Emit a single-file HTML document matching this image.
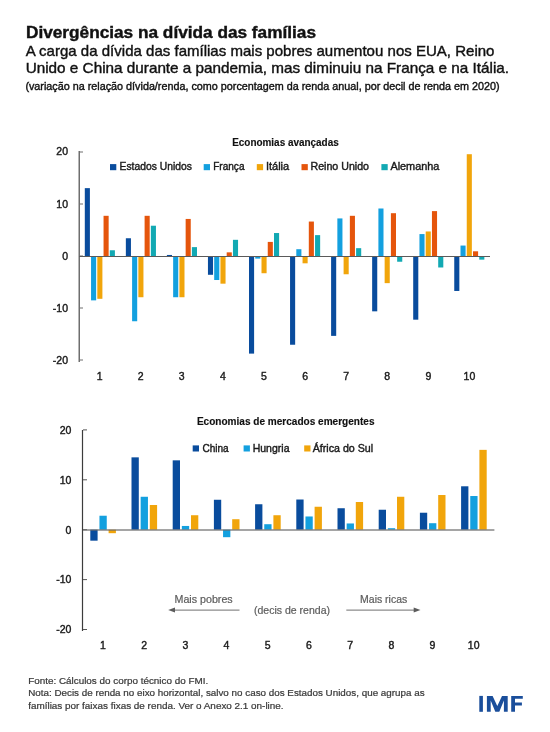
<!DOCTYPE html>
<html><head><meta charset="utf-8"><style>
html,body{margin:0;padding:0;background:#fff;}
svg{display:block;font-family:"Liberation Sans", sans-serif;will-change:transform;}
</style></head><body>
<svg width="550" height="732" viewBox="0 0 550 732">
<rect width="550" height="732" fill="#fff"/>
<text x="26.00" y="37.70" font-size="16.4" font-weight="bold" fill="#111" text-anchor="start" textLength="290.00" lengthAdjust="spacingAndGlyphs" stroke="#111" stroke-width="0.4">Divergências na dívida das famílias</text>
<text x="25.70" y="56.10" font-size="15" font-weight="normal" fill="#111" text-anchor="start" textLength="468.80" lengthAdjust="spacingAndGlyphs" stroke="#111" stroke-width="0.4">A carga da dívida das famílias mais pobres aumentou nos EUA, Reino</text>
<text x="25.70" y="73.20" font-size="15" font-weight="normal" fill="#111" text-anchor="start" textLength="483.40" lengthAdjust="spacingAndGlyphs" stroke="#111" stroke-width="0.4">Unido e China durante a pandemia, mas diminuiu na França e na Itália.</text>
<text x="25.40" y="90.40" font-size="11.4" font-weight="normal" fill="#111" text-anchor="start" textLength="474.20" lengthAdjust="spacingAndGlyphs" stroke="#111" stroke-width="0.4">(variação na relação dívida/renda, como porcentagem da renda anual, por decil de renda em 2020)</text>
<rect x="84.80" y="188.14" width="5.10" height="67.86" fill="#094c9d"/>
<rect x="91.05" y="257.00" width="5.10" height="43.37" fill="#13a0df"/>
<rect x="97.30" y="257.00" width="5.10" height="41.80" fill="#f1a50b"/>
<rect x="103.55" y="215.81" width="5.10" height="40.19" fill="#e5550c"/>
<rect x="109.80" y="250.26" width="5.10" height="5.74" fill="#12a9b3"/>
<rect x="125.85" y="238.25" width="5.10" height="17.75" fill="#094c9d"/>
<rect x="132.10" y="257.00" width="5.10" height="64.25" fill="#13a0df"/>
<rect x="138.35" y="257.00" width="5.10" height="40.24" fill="#f1a50b"/>
<rect x="144.60" y="215.81" width="5.10" height="40.19" fill="#e5550c"/>
<rect x="150.85" y="225.72" width="5.10" height="30.28" fill="#12a9b3"/>
<rect x="166.90" y="254.96" width="5.10" height="1.04" fill="#094c9d"/>
<rect x="173.15" y="257.00" width="5.10" height="40.24" fill="#13a0df"/>
<rect x="179.40" y="257.00" width="5.10" height="40.24" fill="#f1a50b"/>
<rect x="185.65" y="218.94" width="5.10" height="37.06" fill="#e5550c"/>
<rect x="191.90" y="247.13" width="5.10" height="8.87" fill="#12a9b3"/>
<rect x="207.95" y="257.00" width="5.10" height="17.79" fill="#094c9d"/>
<rect x="214.20" y="257.00" width="5.10" height="23.01" fill="#13a0df"/>
<rect x="220.45" y="257.00" width="5.10" height="26.67" fill="#f1a50b"/>
<rect x="226.70" y="252.35" width="5.10" height="3.65" fill="#e5550c"/>
<rect x="232.95" y="239.82" width="5.10" height="16.18" fill="#12a9b3"/>
<rect x="249.00" y="257.00" width="5.10" height="96.61" fill="#094c9d"/>
<rect x="255.25" y="257.00" width="5.10" height="1.61" fill="#13a0df"/>
<rect x="261.50" y="257.00" width="5.10" height="16.23" fill="#f1a50b"/>
<rect x="267.75" y="241.91" width="5.10" height="14.09" fill="#e5550c"/>
<rect x="274.00" y="233.03" width="5.10" height="22.97" fill="#12a9b3"/>
<rect x="290.05" y="257.00" width="5.10" height="87.74" fill="#094c9d"/>
<rect x="296.30" y="249.21" width="5.10" height="6.79" fill="#13a0df"/>
<rect x="302.55" y="257.00" width="5.10" height="6.31" fill="#f1a50b"/>
<rect x="308.80" y="221.55" width="5.10" height="34.45" fill="#e5550c"/>
<rect x="315.05" y="235.12" width="5.10" height="20.88" fill="#12a9b3"/>
<rect x="331.10" y="257.00" width="5.10" height="78.87" fill="#094c9d"/>
<rect x="337.35" y="218.42" width="5.10" height="37.58" fill="#13a0df"/>
<rect x="343.60" y="257.00" width="5.10" height="17.27" fill="#f1a50b"/>
<rect x="349.85" y="215.81" width="5.10" height="40.19" fill="#e5550c"/>
<rect x="356.10" y="248.17" width="5.10" height="7.83" fill="#12a9b3"/>
<rect x="372.15" y="257.00" width="5.10" height="54.33" fill="#094c9d"/>
<rect x="378.40" y="208.50" width="5.10" height="47.50" fill="#13a0df"/>
<rect x="384.65" y="257.00" width="5.10" height="26.14" fill="#f1a50b"/>
<rect x="390.90" y="213.20" width="5.10" height="42.80" fill="#e5550c"/>
<rect x="397.15" y="257.00" width="5.10" height="4.74" fill="#12a9b3"/>
<rect x="413.20" y="257.00" width="5.10" height="62.68" fill="#094c9d"/>
<rect x="419.45" y="234.08" width="5.10" height="21.92" fill="#13a0df"/>
<rect x="425.70" y="231.47" width="5.10" height="24.53" fill="#f1a50b"/>
<rect x="431.95" y="211.11" width="5.10" height="44.89" fill="#e5550c"/>
<rect x="438.20" y="257.00" width="5.10" height="10.48" fill="#12a9b3"/>
<rect x="454.25" y="257.00" width="5.10" height="33.97" fill="#094c9d"/>
<rect x="460.50" y="245.56" width="5.10" height="10.44" fill="#13a0df"/>
<rect x="466.75" y="154.21" width="5.10" height="101.79" fill="#f1a50b"/>
<rect x="473.00" y="251.30" width="5.10" height="4.70" fill="#e5550c"/>
<rect x="479.25" y="257.00" width="5.10" height="2.65" fill="#12a9b3"/>
<rect x="78.50" y="151.00" width="1.50" height="211.00" fill="#6e6e6e"/>
<rect x="80.00" y="151.50" width="3.00" height="1.00" fill="#6e6e6e"/>
<rect x="80.00" y="203.50" width="3.00" height="1.00" fill="#6e6e6e"/>
<rect x="80.00" y="255.50" width="3.00" height="1.00" fill="#6e6e6e"/>
<rect x="80.00" y="307.50" width="3.00" height="1.00" fill="#6e6e6e"/>
<rect x="80.00" y="359.50" width="3.00" height="1.00" fill="#6e6e6e"/>
<rect x="79.00" y="256.00" width="411.00" height="1.00" fill="#5a5a5a"/>
<text x="68.00" y="155.40" font-size="10.5" font-weight="normal" fill="#1a1a1a" text-anchor="end" stroke="#1a1a1a" stroke-width="0.4">20</text>
<text x="68.00" y="207.60" font-size="10.5" font-weight="normal" fill="#1a1a1a" text-anchor="end" stroke="#1a1a1a" stroke-width="0.4">10</text>
<text x="68.00" y="259.80" font-size="10.5" font-weight="normal" fill="#1a1a1a" text-anchor="end" stroke="#1a1a1a" stroke-width="0.4">0</text>
<text x="68.00" y="312.00" font-size="10.5" font-weight="normal" fill="#1a1a1a" text-anchor="end" stroke="#1a1a1a" stroke-width="0.4">-10</text>
<text x="68.00" y="364.20" font-size="10.5" font-weight="normal" fill="#1a1a1a" text-anchor="end" stroke="#1a1a1a" stroke-width="0.4">-20</text>
<text x="99.55" y="379.70" font-size="10.5" font-weight="normal" fill="#1a1a1a" text-anchor="middle" stroke="#1a1a1a" stroke-width="0.4">1</text>
<text x="140.65" y="379.70" font-size="10.5" font-weight="normal" fill="#1a1a1a" text-anchor="middle" stroke="#1a1a1a" stroke-width="0.4">2</text>
<text x="181.75" y="379.70" font-size="10.5" font-weight="normal" fill="#1a1a1a" text-anchor="middle" stroke="#1a1a1a" stroke-width="0.4">3</text>
<text x="222.85" y="379.70" font-size="10.5" font-weight="normal" fill="#1a1a1a" text-anchor="middle" stroke="#1a1a1a" stroke-width="0.4">4</text>
<text x="263.95" y="379.70" font-size="10.5" font-weight="normal" fill="#1a1a1a" text-anchor="middle" stroke="#1a1a1a" stroke-width="0.4">5</text>
<text x="305.05" y="379.70" font-size="10.5" font-weight="normal" fill="#1a1a1a" text-anchor="middle" stroke="#1a1a1a" stroke-width="0.4">6</text>
<text x="346.15" y="379.70" font-size="10.5" font-weight="normal" fill="#1a1a1a" text-anchor="middle" stroke="#1a1a1a" stroke-width="0.4">7</text>
<text x="387.25" y="379.70" font-size="10.5" font-weight="normal" fill="#1a1a1a" text-anchor="middle" stroke="#1a1a1a" stroke-width="0.4">8</text>
<text x="428.35" y="379.70" font-size="10.5" font-weight="normal" fill="#1a1a1a" text-anchor="middle" stroke="#1a1a1a" stroke-width="0.4">9</text>
<text x="469.45" y="379.70" font-size="10.5" font-weight="normal" fill="#1a1a1a" text-anchor="middle" stroke="#1a1a1a" stroke-width="0.4">10</text>
<text x="232.20" y="146.00" font-size="10.6" font-weight="bold" fill="#111" text-anchor="start" textLength="106.50" lengthAdjust="spacingAndGlyphs" stroke="#111" stroke-width="0.15">Economias avançadas</text>
<rect x="110.00" y="164.10" width="6.30" height="6.10" fill="#094c9d"/>
<text x="119.60" y="170.00" font-size="10.6" font-weight="normal" fill="#1a1a1a" text-anchor="start" textLength="72.20" lengthAdjust="spacingAndGlyphs" stroke="#1a1a1a" stroke-width="0.4">Estados Unidos</text>
<rect x="203.70" y="164.10" width="6.30" height="6.10" fill="#13a0df"/>
<text x="213.20" y="170.00" font-size="10.6" font-weight="normal" fill="#1a1a1a" text-anchor="start" textLength="31.30" lengthAdjust="spacingAndGlyphs" stroke="#1a1a1a" stroke-width="0.4">França</text>
<rect x="256.80" y="164.10" width="6.30" height="6.10" fill="#f1a50b"/>
<text x="265.90" y="170.00" font-size="10.6" font-weight="normal" fill="#1a1a1a" text-anchor="start" textLength="23.30" lengthAdjust="spacingAndGlyphs" stroke="#1a1a1a" stroke-width="0.4">Itália</text>
<rect x="301.50" y="164.10" width="6.30" height="6.10" fill="#e5550c"/>
<text x="310.50" y="170.00" font-size="10.6" font-weight="normal" fill="#1a1a1a" text-anchor="start" textLength="58.50" lengthAdjust="spacingAndGlyphs" stroke="#1a1a1a" stroke-width="0.4">Reino Unido</text>
<rect x="381.40" y="164.10" width="6.30" height="6.10" fill="#12a9b3"/>
<text x="390.40" y="170.00" font-size="10.6" font-weight="normal" fill="#1a1a1a" text-anchor="start" textLength="49.00" lengthAdjust="spacingAndGlyphs" stroke="#1a1a1a" stroke-width="0.4">Alemanha</text>
<rect x="90.30" y="529.70" width="7.30" height="10.98" fill="#094c9d"/>
<rect x="99.45" y="515.73" width="7.30" height="13.97" fill="#13a0df"/>
<rect x="108.60" y="529.70" width="7.30" height="3.49" fill="#f1a50b"/>
<rect x="131.50" y="457.35" width="7.30" height="72.36" fill="#094c9d"/>
<rect x="140.65" y="496.77" width="7.30" height="32.93" fill="#13a0df"/>
<rect x="149.80" y="505.00" width="7.30" height="24.70" fill="#f1a50b"/>
<rect x="172.70" y="460.34" width="7.30" height="69.36" fill="#094c9d"/>
<rect x="181.85" y="525.96" width="7.30" height="3.74" fill="#13a0df"/>
<rect x="191.00" y="515.23" width="7.30" height="14.47" fill="#f1a50b"/>
<rect x="213.90" y="499.76" width="7.30" height="29.94" fill="#094c9d"/>
<rect x="223.05" y="529.70" width="7.30" height="7.49" fill="#13a0df"/>
<rect x="232.20" y="519.22" width="7.30" height="10.48" fill="#f1a50b"/>
<rect x="255.10" y="504.25" width="7.30" height="25.45" fill="#094c9d"/>
<rect x="264.25" y="524.21" width="7.30" height="5.49" fill="#13a0df"/>
<rect x="273.40" y="515.23" width="7.30" height="14.47" fill="#f1a50b"/>
<rect x="296.30" y="499.51" width="7.30" height="30.19" fill="#094c9d"/>
<rect x="305.45" y="516.48" width="7.30" height="13.22" fill="#13a0df"/>
<rect x="314.60" y="506.75" width="7.30" height="22.95" fill="#f1a50b"/>
<rect x="337.50" y="508.24" width="7.30" height="21.46" fill="#094c9d"/>
<rect x="346.65" y="523.46" width="7.30" height="6.24" fill="#13a0df"/>
<rect x="355.80" y="502.01" width="7.30" height="27.69" fill="#f1a50b"/>
<rect x="378.70" y="509.74" width="7.30" height="19.96" fill="#094c9d"/>
<rect x="387.85" y="528.20" width="7.30" height="1.50" fill="#13a0df"/>
<rect x="397.00" y="496.77" width="7.30" height="32.93" fill="#f1a50b"/>
<rect x="419.90" y="512.73" width="7.30" height="16.97" fill="#094c9d"/>
<rect x="429.05" y="523.21" width="7.30" height="6.49" fill="#13a0df"/>
<rect x="438.20" y="495.02" width="7.30" height="34.68" fill="#f1a50b"/>
<rect x="461.10" y="486.29" width="7.30" height="43.41" fill="#094c9d"/>
<rect x="470.25" y="496.02" width="7.30" height="33.68" fill="#13a0df"/>
<rect x="479.40" y="449.86" width="7.30" height="79.84" fill="#f1a50b"/>
<rect x="81.90" y="430.00" width="1.20" height="201.00" fill="#3c3c3c"/>
<rect x="83.00" y="429.40" width="4.00" height="1.00" fill="#555"/>
<rect x="83.00" y="479.30" width="4.00" height="1.00" fill="#555"/>
<rect x="83.00" y="529.20" width="4.00" height="1.00" fill="#555"/>
<rect x="83.00" y="579.10" width="4.00" height="1.00" fill="#555"/>
<rect x="83.00" y="629.00" width="4.00" height="1.00" fill="#555"/>
<rect x="83.00" y="529.40" width="411.40" height="1.20" fill="#6a6a6a"/>
<text x="71.40" y="433.70" font-size="10.5" font-weight="normal" fill="#1a1a1a" text-anchor="end" stroke="#1a1a1a" stroke-width="0.4">20</text>
<text x="71.40" y="483.60" font-size="10.5" font-weight="normal" fill="#1a1a1a" text-anchor="end" stroke="#1a1a1a" stroke-width="0.4">10</text>
<text x="71.40" y="533.50" font-size="10.5" font-weight="normal" fill="#1a1a1a" text-anchor="end" stroke="#1a1a1a" stroke-width="0.4">0</text>
<text x="71.40" y="583.40" font-size="10.5" font-weight="normal" fill="#1a1a1a" text-anchor="end" stroke="#1a1a1a" stroke-width="0.4">-10</text>
<text x="71.40" y="633.30" font-size="10.5" font-weight="normal" fill="#1a1a1a" text-anchor="end" stroke="#1a1a1a" stroke-width="0.4">-20</text>
<text x="102.90" y="649.20" font-size="10.5" font-weight="normal" fill="#1a1a1a" text-anchor="middle" stroke="#1a1a1a" stroke-width="0.4">1</text>
<text x="144.10" y="649.20" font-size="10.5" font-weight="normal" fill="#1a1a1a" text-anchor="middle" stroke="#1a1a1a" stroke-width="0.4">2</text>
<text x="185.30" y="649.20" font-size="10.5" font-weight="normal" fill="#1a1a1a" text-anchor="middle" stroke="#1a1a1a" stroke-width="0.4">3</text>
<text x="226.50" y="649.20" font-size="10.5" font-weight="normal" fill="#1a1a1a" text-anchor="middle" stroke="#1a1a1a" stroke-width="0.4">4</text>
<text x="267.70" y="649.20" font-size="10.5" font-weight="normal" fill="#1a1a1a" text-anchor="middle" stroke="#1a1a1a" stroke-width="0.4">5</text>
<text x="308.90" y="649.20" font-size="10.5" font-weight="normal" fill="#1a1a1a" text-anchor="middle" stroke="#1a1a1a" stroke-width="0.4">6</text>
<text x="350.10" y="649.20" font-size="10.5" font-weight="normal" fill="#1a1a1a" text-anchor="middle" stroke="#1a1a1a" stroke-width="0.4">7</text>
<text x="391.30" y="649.20" font-size="10.5" font-weight="normal" fill="#1a1a1a" text-anchor="middle" stroke="#1a1a1a" stroke-width="0.4">8</text>
<text x="432.50" y="649.20" font-size="10.5" font-weight="normal" fill="#1a1a1a" text-anchor="middle" stroke="#1a1a1a" stroke-width="0.4">9</text>
<text x="473.70" y="649.20" font-size="10.5" font-weight="normal" fill="#1a1a1a" text-anchor="middle" stroke="#1a1a1a" stroke-width="0.4">10</text>
<text x="196.90" y="425.20" font-size="10.6" font-weight="bold" fill="#111" text-anchor="start" textLength="177.60" lengthAdjust="spacingAndGlyphs" stroke="#111" stroke-width="0.15">Economias de mercados emergentes</text>
<rect x="192.70" y="445.40" width="6.30" height="6.10" fill="#094c9d"/>
<text x="202.40" y="451.50" font-size="10.6" font-weight="normal" fill="#1a1a1a" text-anchor="start" textLength="26.30" lengthAdjust="spacingAndGlyphs" stroke="#1a1a1a" stroke-width="0.4">China</text>
<rect x="243.60" y="445.40" width="6.30" height="6.10" fill="#13a0df"/>
<text x="252.70" y="451.50" font-size="10.6" font-weight="normal" fill="#1a1a1a" text-anchor="start" textLength="36.80" lengthAdjust="spacingAndGlyphs" stroke="#1a1a1a" stroke-width="0.4">Hungria</text>
<rect x="304.20" y="445.40" width="6.30" height="6.10" fill="#f1a50b"/>
<text x="312.70" y="451.50" font-size="10.6" font-weight="normal" fill="#1a1a1a" text-anchor="start" textLength="60.40" lengthAdjust="spacingAndGlyphs" stroke="#1a1a1a" stroke-width="0.4">África do Sul</text>
<text x="174.50" y="603.20" font-size="10.6" font-weight="normal" fill="#5c5c5c" text-anchor="start" textLength="58.20" lengthAdjust="spacingAndGlyphs" stroke="#5c5c5c" stroke-width="0.2">Mais pobres</text>
<text x="360.10" y="603.20" font-size="10.6" font-weight="normal" fill="#5c5c5c" text-anchor="start" textLength="47.10" lengthAdjust="spacingAndGlyphs" stroke="#5c5c5c" stroke-width="0.2">Mais ricas</text>
<text x="254.00" y="614.10" font-size="10.6" font-weight="normal" fill="#5c5c5c" text-anchor="start" textLength="76.00" lengthAdjust="spacingAndGlyphs" stroke="#5c5c5c" stroke-width="0.2">(decis de renda)</text>
<rect x="173.00" y="609.60" width="66.50" height="1.00" fill="#707070"/>
<polygon points="168.2,610.1 175,607.6 175,612.6" fill="#5c5c5c"/>
<rect x="346.30" y="609.60" width="69.20" height="1.00" fill="#707070"/>
<polygon points="420.5,610.1 413.7,607.6 413.7,612.6" fill="#5c5c5c"/>
<text x="28.20" y="683.70" font-size="9.2" font-weight="normal" fill="#3a3a3a" text-anchor="start" textLength="180.00" lengthAdjust="spacingAndGlyphs" stroke="#3a3a3a" stroke-width="0.22">Fonte: Cálculos do corpo técnico do FMI.</text>
<text x="28.20" y="696.30" font-size="9.2" font-weight="normal" fill="#3a3a3a" text-anchor="start" textLength="396.40" lengthAdjust="spacingAndGlyphs" stroke="#3a3a3a" stroke-width="0.22">Nota: Decis de renda no eixo horizontal, salvo no caso dos Estados Unidos, que agrupa as</text>
<text x="28.20" y="708.60" font-size="9.2" font-weight="normal" fill="#3a3a3a" text-anchor="start" textLength="255.40" lengthAdjust="spacingAndGlyphs" stroke="#3a3a3a" stroke-width="0.22">famílias por faixas fixas de renda. Ver o Anexo 2.1 on-line.</text>
<rect x="479.30" y="695.90" width="3.60" height="15.90" fill="#1a4e9b"/>
<polygon points="486.9,711.8 486.9,695.9 492.6,695.9 497.3,706.0 502.0,695.9 507.7,695.9 507.7,711.8 503.9,711.8 503.9,700.5 499.3,711.8 495.3,711.8 490.7,700.5 490.7,711.8" fill="#1a4e9b"/>
<polygon points="511.2,711.8 511.2,695.9 522.8,695.9 522.8,698.8 515,698.8 515,702.5 521.9,702.5 521.9,705.5 515,705.5 515,711.8" fill="#1a4e9b"/>
</svg>
</body></html>
